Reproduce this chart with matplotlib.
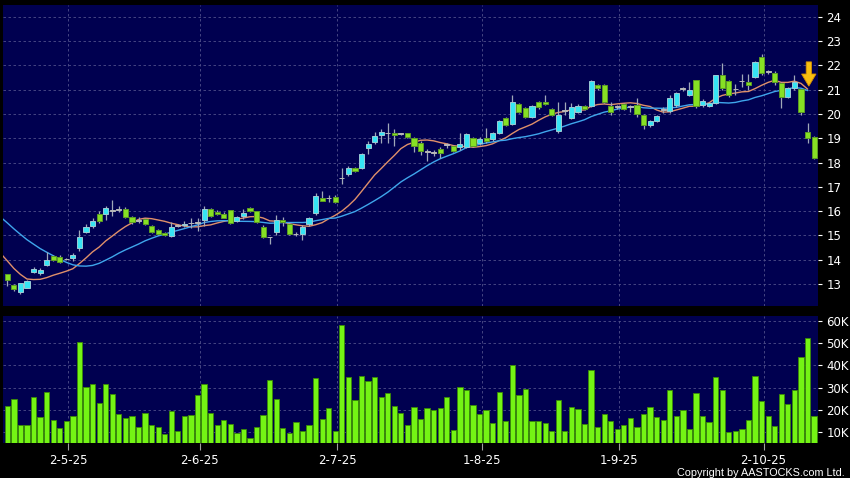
import matplotlib
matplotlib.use('Agg')
import matplotlib.pyplot as plt
from matplotlib.patches import FancyArrow
import numpy as np

# daily OHLC, mid-April to mid-October 2025
opens = [13.41, 12.96, 12.66, 12.84, 13.49, 13.45, 13.77, 14.15, 14.10, 14.02,
         14.06, 14.46, 15.14, 15.38, 15.88, 15.88, 16.00, 16.06, 16.09, 15.76,
         15.60, 15.68, 15.38, 15.21, 15.10, 14.96, 15.40, 15.42, 15.49, 15.51,
         15.64, 16.10, 15.98, 15.89, 16.03, 15.60, 15.81, 16.11, 15.99, 15.36,
         14.92, 15.15, 15.65, 15.48, 15.05, 15.05, 15.45, 15.91, 16.55, 16.52,
         16.60, 17.35, 17.51, 17.79, 17.79, 18.61, 18.83, 19.13, 19.20, 19.23,
         19.18, 19.20, 19.00, 18.82, 18.45, 18.41, 18.55, 18.73, 18.69, 18.62,
         18.63, 19.03, 18.80, 19.00, 18.96, 19.21, 19.83, 19.59, 20.40, 20.24,
         19.87, 20.49, 20.51, 20.20, 19.28, 20.12, 19.85, 20.10, 20.31, 20.31,
         21.20, 21.20, 20.31, 20.30, 20.40, 20.30, 20.38, 19.96, 19.55, 19.72,
         20.17, 20.14, 20.38, 21.04, 20.79, 21.38, 20.38, 20.33, 20.45, 21.59,
         21.37, 21.02, 21.34, 21.31, 21.52, 22.33, 21.75, 21.68, 21.27, 20.72,
         21.06, 21.02, 19.24, 19.04]
highs = [13.42, 13.00, 13.05, 13.18, 13.69, 13.66, 14.30, 14.21, 14.20, 14.08,
         14.27, 15.24, 15.45, 15.72, 16.00, 16.23, 16.45, 16.20, 16.17, 15.80,
         15.75, 15.72, 15.42, 15.25, 15.12, 15.55, 15.45, 15.60, 15.72, 15.72,
         16.20, 16.12, 16.05, 15.95, 16.05, 15.78, 16.10, 16.15, 16.00, 15.43,
         14.95, 15.84, 15.77, 15.50, 15.15, 15.42, 15.75, 16.74, 16.84, 16.66,
         16.65, 17.76, 17.87, 17.82, 18.38, 18.90, 19.25, 19.40, 19.63, 19.38,
         19.22, 19.23, 19.07, 18.90, 18.55, 18.52, 18.66, 18.80, 18.72, 19.20,
         19.20, 19.06, 19.05, 19.41, 19.25, 19.75, 19.88, 20.79, 20.45, 20.30,
         20.35, 20.55, 20.79, 20.25, 20.50, 20.50, 20.45, 20.40, 20.36, 21.40,
         21.25, 21.25, 20.51, 20.38, 20.45, 20.38, 20.65, 20.00, 19.75, 19.95,
         20.30, 20.79, 20.90, 21.13, 21.30, 21.40, 20.60, 20.50, 21.62, 22.10,
         21.42, 21.25, 21.66, 21.66, 22.20, 22.48, 21.82, 21.77, 21.30, 21.10,
         21.60, 21.05, 19.62, 19.10]
lows = [12.93, 12.72, 12.59, 12.84, 13.43, 13.38, 13.73, 13.95, 13.88, 13.97,
        13.95, 14.37, 15.10, 15.30, 15.50, 15.65, 15.80, 15.95, 15.72, 15.45,
        15.50, 15.42, 15.08, 15.02, 14.98, 14.93, 15.35, 15.35, 15.32, 15.20,
        15.40, 15.75, 15.85, 15.70, 15.48, 15.55, 15.68, 15.95, 15.50, 14.88,
        14.63, 15.02, 15.40, 15.00, 14.96, 14.82, 15.40, 15.82, 16.40, 16.36,
        16.33, 17.12, 17.45, 17.60, 17.75, 18.35, 18.78, 18.80, 18.80, 18.70,
        19.12, 19.00, 18.45, 18.32, 18.08, 18.25, 18.18, 18.59, 18.45, 18.52,
        18.60, 18.66, 18.74, 18.80, 18.90, 19.17, 19.50, 19.55, 20.05, 19.82,
        19.83, 20.22, 20.35, 19.90, 19.20, 19.95, 19.78, 20.05, 20.15, 20.28,
        21.00, 20.45, 19.97, 20.20, 20.15, 20.10, 19.86, 19.40, 19.45, 19.68,
        20.03, 20.05, 20.30, 20.93, 20.75, 20.25, 20.30, 20.28, 20.40, 21.00,
        20.70, 20.79, 21.13, 20.98, 21.50, 21.60, 21.64, 21.20, 20.24, 20.65,
        20.98, 19.96, 18.82, 18.15]
closes = [13.18, 12.79, 13.04, 13.11, 13.62, 13.59, 14.00, 13.99, 13.91, 14.02,
          14.19, 14.94, 15.35, 15.61, 15.58, 16.12, 16.00, 16.06, 15.76, 15.54,
          15.60, 15.47, 15.13, 15.07, 15.03, 15.34, 15.40, 15.46, 15.49, 15.51,
          16.10, 15.80, 15.90, 15.73, 15.51, 15.74, 15.91, 15.99, 15.56, 14.92,
          14.92, 15.65, 15.56, 15.05, 15.05, 15.33, 15.70, 16.63, 16.43, 16.52,
          16.36, 17.35, 17.79, 17.64, 18.34, 18.75, 19.08, 19.27, 19.20, 19.13,
          19.18, 19.05, 18.70, 18.47, 18.45, 18.41, 18.38, 18.73, 18.48, 18.78,
          19.18, 18.70, 18.99, 18.87, 19.21, 19.72, 19.55, 20.51, 20.10, 19.87,
          20.31, 20.27, 20.40, 19.96, 19.95, 20.12, 20.28, 20.31, 20.20, 21.34,
          21.06, 20.51, 20.10, 20.30, 20.21, 20.30, 20.00, 19.55, 19.72, 19.90,
          20.17, 20.65, 20.86, 21.04, 20.99, 20.31, 20.54, 20.44, 21.59, 21.06,
          20.79, 21.02, 21.34, 21.20, 22.16, 21.68, 21.75, 21.30, 20.72, 21.06,
          21.30, 20.10, 19.00, 18.18]
volumes_k = [21.6, 24.9, 13.2, 13.2, 25.9, 16.6, 28.2, 15.4, 11.8, 15.0,
             17.1, 50.4, 30.4, 31.8, 23.1, 31.6, 27.3, 18.0, 16.2, 17.4,
             12.3, 18.4, 12.9, 12.1, 9.1, 19.6, 10.6, 17.1, 17.7, 26.8,
             31.8, 18.4, 12.9, 15.4, 13.6, 9.5, 11.4, 7.3, 12.3, 17.7,
             33.3, 24.9, 11.7, 9.5, 14.4, 10.5, 13.0, 34.3, 15.9, 20.7,
             10.2, 58.3, 34.9, 24.4, 35.4, 33.0, 34.6, 25.8, 27.4, 21.6,
             18.7, 13.2, 21.1, 15.9, 20.7, 20.1, 20.8, 25.8, 10.9, 30.3,
             28.9, 22.2, 18.1, 19.8, 14.1, 27.9, 14.8, 40.0, 26.8, 29.2,
             15.0, 15.0, 14.1, 10.6, 24.4, 10.2, 21.1, 20.4, 13.6, 38.1,
             12.4, 18.0, 14.8, 11.4, 13.3, 16.2, 12.4, 18.1, 21.3, 16.8,
             15.6, 28.9, 17.4, 19.9, 11.5, 27.6, 17.4, 14.7, 34.6, 28.8,
             10.0, 10.6, 11.4, 15.4, 35.1, 23.9, 17.4, 12.6, 27.0, 22.6,
             28.9, 43.9, 52.3, 17.4]
# closes before the visible window (only feed the moving averages)
prior_closes = [17.8, 17.7, 17.6, 17.5, 17.3, 17.2, 17.0, 16.9, 16.8, 16.6,
                16.2, 15.9, 15.5, 15.0, 13.84, 13.5, 13.3, 13.0, 13.1, 13.16]

tick_labels = ['2-5-25', '2-6-25', '2-7-25', '1-8-25', '1-9-25', '2-10-25']
tick_index = [9, 29, 50, 72, 93, 115]
price_ticks = list(range(13, 25))
volume_ticks = [10000, 20000, 30000, 40000, 50000, 60000]

UP = '#36e4f4'
DOWN = '#86e024'
NAVY = '#000050'

n = len(closes)
x = np.arange(n)
o = np.array(opens)
h = np.array(highs)
l = np.array(lows)
c = np.array(closes)
vol = np.array(volumes_k) * 1000

# moving averages drawn from the left edge up to the day before the last
all_close = np.array(prior_closes + closes)
n_prior = len(prior_closes)
ma_x = np.arange(-1, n - 1)
def moving_average(period):
    return np.array([all_close[i + n_prior - period + 1:i + n_prior + 1].mean() for i in ma_x])
ma10 = moving_average(10)
ma20 = moving_average(20)

fig = plt.figure(figsize=(8.5, 4.78), dpi=100, facecolor='black')
ax = fig.add_axes([3 / 850, 1 - 306 / 478, 815 / 850, 301 / 478], facecolor=NAVY)
axv = fig.add_axes([3 / 850, 1 - 443 / 478, 815 / 850, 127 / 478], facecolor=NAVY, sharex=ax)

grid_kw = dict(color='#50508a', linestyle=(0, (3, 3)), linewidth=0.6)

# price panel
ax.plot(ma_x, ma10, color='#e0906a', lw=1.0, zorder=2)
ax.plot(ma_x, ma20, color='#3fa6ec', lw=1.0, zorder=2)

colors = []
edges = []
for oo, cc in zip(o, c):
    if cc > oo:
        colors.append(UP)
        edges.append('#9ccad4')
    elif cc < oo:
        colors.append(DOWN)
        edges.append('#5c9c24')
    else:
        colors.append('#b8b8b8')
        edges.append('#b8b8b8')
ax.vlines(x, l, h, color='#a0a8b8', lw=0.9, zorder=3)
body_h = np.maximum(np.abs(c - o), 0.025)
ax.bar(x, body_h, bottom=np.minimum(o, c), width=0.78, color=colors,
       edgecolor=edges, linewidth=0.7, zorder=4)

# down arrow at the end of the averages
tip_y = ma10[-1] + 0.12
ax.add_patch(FancyArrow(ma_x[-1] + 0.2, tip_y + 1.0, 0, -1.0, width=0.8, head_width=2.2,
                        head_length=0.5, length_includes_head=True,
                        facecolor='#f8bf10', edgecolor='#d89000', lw=0.6, zorder=6))

ax.set_ylim(12.09, 24.49)
ax.set_yticks(price_ticks)
ax.yaxis.tick_right()
ax.tick_params(axis='y', colors='white', labelcolor='white', labelsize=8.5,
               length=3, width=0.8, pad=3)
ax.tick_params(axis='x', bottom=False, labelbottom=False)
ax.grid(True, **grid_kw)

# volume panel
axv.bar(x, vol, width=0.8, color='#74f414', edgecolor='#3a8a06', linewidth=0.6, zorder=3)
axv.set_ylim(5000, 62300)
axv.set_yticks(volume_ticks)
axv.set_yticklabels([f'{v // 1000}K' for v in volume_ticks])
axv.yaxis.tick_right()
axv.tick_params(axis='y', colors='white', labelcolor='white', labelsize=8.5,
                length=3, width=0.8, pad=3)
axv.set_xticks(np.array(tick_index) + 0.3)
axv.set_xticklabels(tick_labels)
axv.tick_params(axis='x', colors='#a0a0a0', labelcolor='white', labelsize=8.5,
                length=5, width=0.8, pad=3)
axv.grid(True, **grid_kw)
axv.set_xlim(-0.66, 123.6)

for a in (ax, axv):
    for s in a.spines.values():
        s.set_visible(False)

fig.text(0.994, 1 - 476 / 478, 'Copyright by AASTOCKS.com Ltd.', ha='right', va='baseline',
         color='white', fontsize=7.8, family='Liberation Sans')

fig.savefig('out.png', dpi=100, facecolor='black')
